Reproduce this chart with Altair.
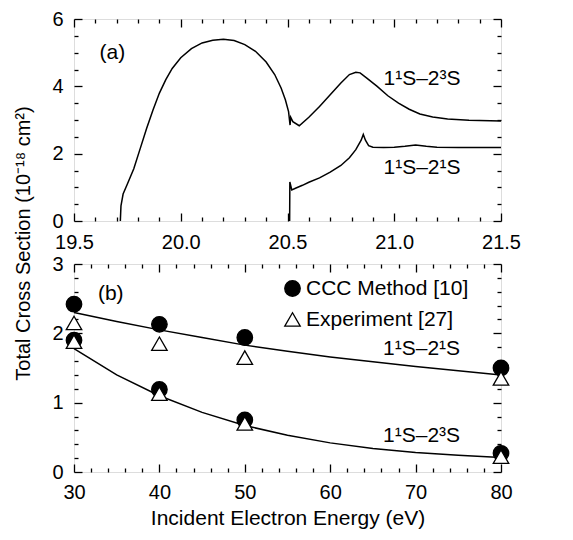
import altair as alt
import pandas as pd

FONT = "Liberation Sans"

# ---------------- Panel (a) data ----------------
a_23S_x = [19.717, 19.72, 19.73, 19.75, 19.78, 19.81, 19.84, 19.87, 19.90, 19.93, 19.96,
           20.00, 20.05, 20.10, 20.15, 20.20, 20.25, 20.30, 20.35, 20.40, 20.44, 20.47,
           20.49, 20.505, 20.512, 20.515, 20.525, 20.555, 20.60, 20.65, 20.70, 20.75,
           20.79, 20.82, 20.84, 20.87, 20.92, 20.97, 21.02, 21.07, 21.12, 21.18, 21.25,
           21.35, 21.50]
a_23S_y = [0.0, 0.45, 0.80, 1.10, 1.55, 2.15, 2.75, 3.30, 3.80, 4.20, 4.53,
           4.85, 5.12, 5.29, 5.37, 5.40, 5.36, 5.24, 5.04, 4.72, 4.35, 3.95,
           3.60, 3.25, 2.85, 3.08, 2.95, 2.83, 3.08, 3.40, 3.75, 4.10,
           4.35, 4.42, 4.40, 4.25, 4.00, 3.72, 3.50, 3.32, 3.18, 3.09, 3.03,
           2.99, 2.97]
a_21S_x = [20.510, 20.511, 20.52, 20.54, 20.57, 20.60, 20.65, 20.70, 20.75, 20.79, 20.82,
           20.845, 20.855, 20.865, 20.88, 20.90, 20.95, 21.00, 21.05, 21.10, 21.15,
           21.20, 21.30, 21.50]
a_21S_y = [0.0, 1.16, 0.92, 0.98, 1.06, 1.15, 1.28, 1.45, 1.65, 1.88, 2.12,
           2.40, 2.57, 2.40, 2.24, 2.19, 2.18, 2.19, 2.22, 2.26, 2.22,
           2.19, 2.18, 2.18]

a_xmajor = [19.5, 20.0, 20.5, 21.0, 21.5]
a_xminor = [19.6, 19.7, 19.8, 19.9, 20.1, 20.2, 20.3, 20.4, 20.6, 20.7, 20.8, 20.9,
            21.1, 21.2, 21.3, 21.4]
a_ymajor = [0, 2, 4, 6]
a_yminor = [0.5, 1, 1.5, 2.5, 3, 3.5, 4.5, 5, 5.5]

a_text = ["(a)", "1¹S–2³S", "1¹S–2¹S"]
a_text_x = [19.68, 21.13, 21.13]
a_text_y = [5.0, 4.22, 1.58]

# ---------------- Panel (b) data ----------------
b_E = [30, 35, 40, 45, 50, 55, 60, 65, 70, 75, 80]
b_21S = [2.30, 2.17, 2.05, 1.94, 1.83, 1.74, 1.66, 1.59, 1.52, 1.46, 1.40]
b_23S = [1.78, 1.40, 1.10, 0.86, 0.67, 0.53, 0.42, 0.34, 0.28, 0.24, 0.21]

pt_E = [30, 40, 50, 80]
ccc_21S = [2.42, 2.13, 1.94, 1.50]
ccc_23S = [1.90, 1.19, 0.75, 0.27]
exp_21S = [2.15, 1.85, 1.65, 1.35]
exp_23S = [1.88, 1.13, 0.70, 0.22]

b_xmajor = [30, 40, 50, 60, 70, 80]
b_xminor = [32, 34, 36, 38, 42, 44, 46, 48, 52, 54, 56, 58, 62, 64, 66, 68, 72, 74, 76, 78]
b_ymajor = [0, 1, 2, 3]
b_yminor = [0.2, 0.4, 0.6, 0.8, 1.2, 1.4, 1.6, 1.8, 2.2, 2.4, 2.6, 2.8]

b_text = ["(b)", "1¹S–2¹S", "1¹S–2³S"]
b_text_x = [34.3, 70.7, 70.7]
b_text_y = [2.57, 1.77, 0.52]

src_names = ["CCC Method [10]", "Experiment [27]"]

# ---------------- tables ----------------
df_a = pd.concat([
    pd.DataFrame({"x": a_23S_x, "y": a_23S_y, "s": "23S"}),
    pd.DataFrame({"x": a_21S_x, "y": a_21S_y, "s": "21S"}),
], ignore_index=True)
df_b = pd.concat([
    pd.DataFrame({"x": b_E, "y": b_21S, "s": "21S"}),
    pd.DataFrame({"x": b_E, "y": b_23S, "s": "23S"}),
], ignore_index=True)
df_pts = pd.concat([
    pd.DataFrame({"x": pt_E, "y": ccc_21S, "src": src_names[0]}),
    pd.DataFrame({"x": pt_E, "y": ccc_23S, "src": src_names[0]}),
    pd.DataFrame({"x": pt_E, "y": exp_21S, "src": src_names[1]}),
    pd.DataFrame({"x": pt_E, "y": exp_23S, "src": src_names[1]}),
], ignore_index=True)
df_ta = pd.DataFrame({"t": a_text, "x": a_text_x, "y": a_text_y})
df_tb = pd.DataFrame({"t": b_text, "x": b_text_x, "y": b_text_y})

W = 427
LABEL_FS = 20


def axis(orient, values, size, labels=False, fmt=None, title=None, **kw):
    d = dict(orient=orient, values=values, tickSize=size, offset=-size, domain=False,
             grid=False, ticks=True, tickColor="black", tickWidth=1.3, labels=labels,
             title=title)
    if labels:
        d.update(labelFont=FONT, labelFontSize=LABEL_FS, labelColor="black",
                 labelFlush=False, labelOverlap=False)
        if fmt:
            d["format"] = fmt
    d.update(kw)
    return alt.Axis(**d)


def panel(df, df_t, xdom, ydom, xmaj, xmin, ymaj, ymin, xfmt, h, xaxis_kw, yaxis_kw, extra=None):
    xs = alt.Scale(domain=xdom, nice=False, zero=False)
    ys = alt.Scale(domain=ydom, nice=False, zero=False)
    base = alt.Chart(df)
    l1 = base.mark_line(color="black", strokeWidth=1.5).encode(
        x=alt.X("x:Q", scale=xs, axis=axis("bottom", xmaj, 8, True, xfmt, **xaxis_kw)),
        y=alt.Y("y:Q", scale=ys, axis=axis("left", ymaj, 8, True, None, labelPadding=11, **yaxis_kw)),
        detail="s:N",
    )
    l2 = base.mark_line(strokeOpacity=0).encode(
        x=alt.X("x:Q", scale=xs, axis=axis("bottom", xmin, 4)),
        y=alt.Y("y:Q", scale=ys, axis=axis("left", ymin, 4)),
        detail="s:N",
    )
    l3 = base.mark_line(strokeOpacity=0).encode(
        x=alt.X("x:Q", scale=xs, axis=axis("top", xmaj, 8)),
        y=alt.Y("y:Q", scale=ys, axis=axis("right", ymaj, 8)),
        detail="s:N",
    )
    l4 = base.mark_line(strokeOpacity=0).encode(
        x=alt.X("x:Q", scale=xs, axis=axis("top", xmin, 4)),
        y=alt.Y("y:Q", scale=ys, axis=axis("right", ymin, 4)),
        detail="s:N",
    )
    txt = alt.Chart(df_t).mark_text(font=FONT, fontSize=21, color="black").encode(
        x=alt.X("x:Q", scale=xs, axis=None),
        y=alt.Y("y:Q", scale=ys, axis=None),
        text="t:N",
    )
    layers = [l1, l2, l3, l4, txt]
    if extra is not None:
        layers.append(extra(xs, ys))
    return alt.layer(*layers).resolve_axis(x="independent", y="independent").properties(
        width=W, height=h)


top = panel(df_a, df_ta, [19.5, 21.5], [0, 6], a_xmajor, a_xminor, a_ymajor, a_yminor,
            ".1f", 202, dict(labelPadding=11),
            dict(title="Total Cross Section (10⁻¹⁸ cm²)", titleFont=FONT, titleFontSize=20,
                 titleFontWeight="normal", titleColor="black", titleY=224, titlePadding=18))

legend_kw = dict(title=None, orient="none", legendX=208, legendY=259,
                 labelFont=FONT, labelFontSize=21, labelColor="black", labelLimit=0,
                 symbolSize=240, symbolStrokeWidth=1.3, labelOffset=3, rowPadding=9, padding=0)


def points(xs, ys):
    return alt.Chart(df_pts).mark_point(strokeWidth=1.3, opacity=1, size=240).encode(
        x=alt.X("x:Q", scale=xs, axis=None),
        y=alt.Y("y:Q", scale=ys, axis=None),
        shape=alt.Shape("src:N", scale=alt.Scale(domain=src_names, range=["circle", "triangle-up"]),
                        legend=alt.Legend(**legend_kw)),
        fill=alt.Fill("src:N", scale=alt.Scale(domain=src_names, range=["black", "white"]),
                      legend=alt.Legend(**legend_kw)),
        stroke=alt.Stroke("src:N", scale=alt.Scale(domain=src_names, range=["black", "black"]),
                          legend=alt.Legend(**legend_kw)),
        order=alt.Order("src:N"),
    )


bottom = panel(df_b, df_tb, [30, 80], [0, 3], b_xmajor, b_xminor, b_ymajor, b_yminor,
               "d", 208,
               dict(labelPadding=10, title="Incident Electron Energy (eV)", titleFont=FONT,
                    titleFontSize=21, titleFontWeight="normal", titleColor="black",
                    titlePadding=5),
               {}, extra=points)

chart = alt.vconcat(top, bottom, spacing=43, bounds="flush").properties(
    padding={"top": 0, "left": 5, "right": 5, "bottom": 5}
).configure_view(
    stroke="black", strokeWidth=1.5
).configure(background="white")

chart.save("out.html", embed_options={"renderer": "svg", "actions": False})
